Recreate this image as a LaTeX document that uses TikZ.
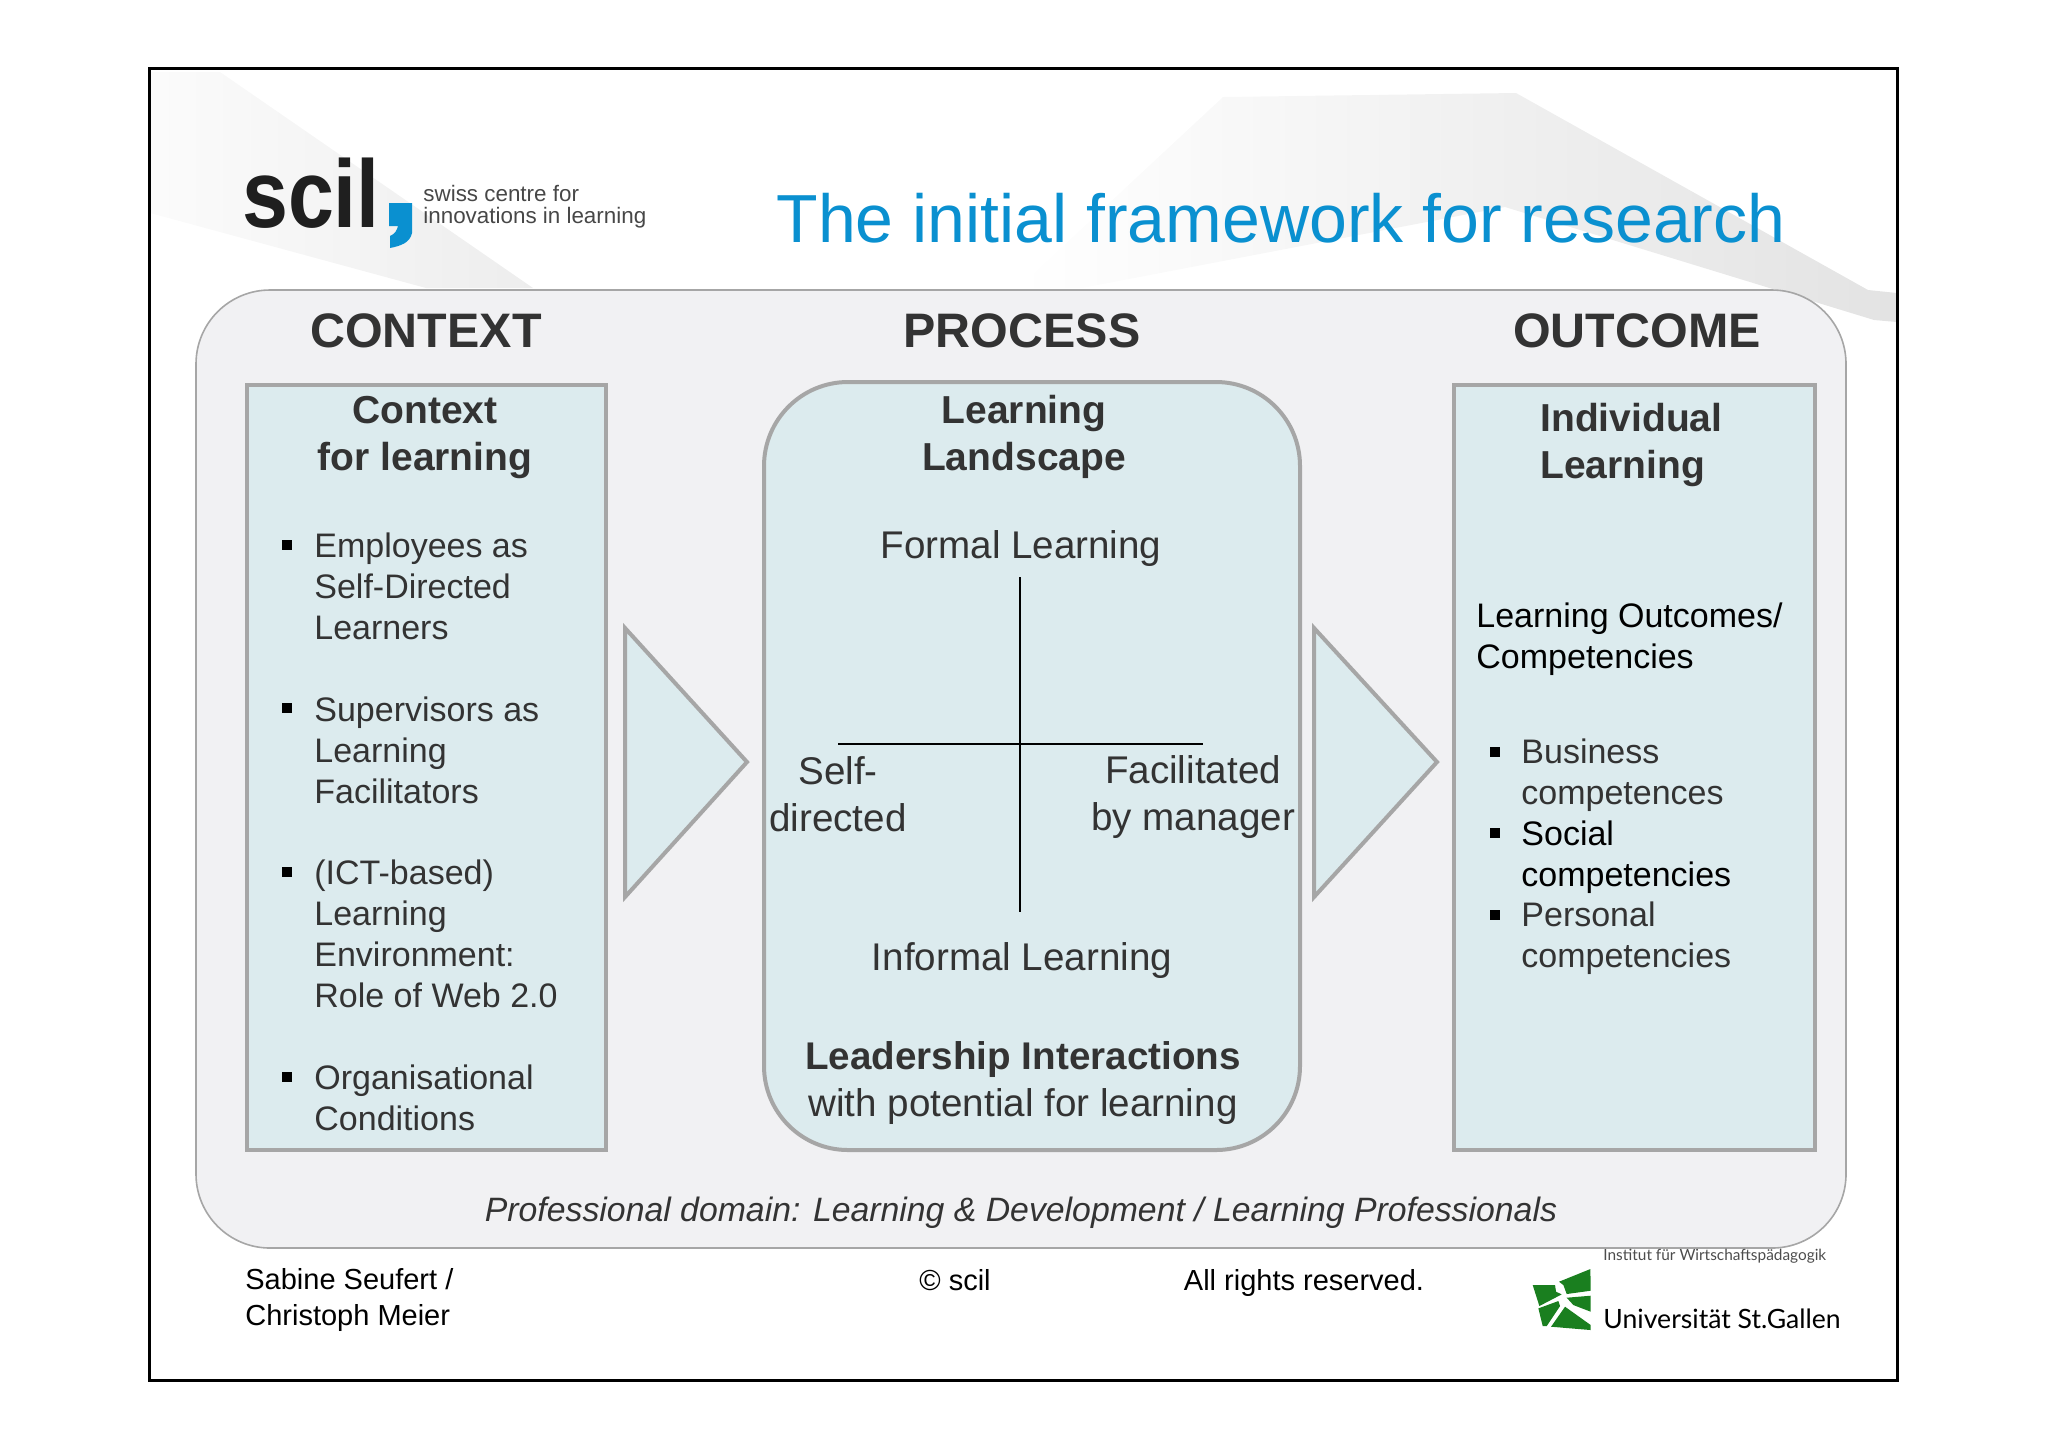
\documentclass[tikz,border=0pt]{standalone}
\usepackage{fontspec}
\usepackage{xcolor}
\usetikzlibrary{positioning}
\setmainfont{Liberation Sans}
\newfontfamily\unifont{Lato}

\definecolor{scilblue}{HTML}{0A90D0}
\definecolor{paneltext}{HTML}{333333}
\definecolor{panelfill}{HTML}{F1F1F3}
\definecolor{boxfill}{HTML}{DCEBEE}
\definecolor{boxline}{HTML}{A6A6A6}
\definecolor{unigreen}{HTML}{1A7F1F}

\begin{document}
\begin{tikzpicture}[x=.5pt,y=-.5pt,align=center,inner sep=0pt,text=paneltext]

    \tikzstyle{headline}=[font=\bfseries\fontsize{24.2}{28}\selectfont]
    \tikzstyle{boxtitle}=[font=\bfseries\fontsize{19.5}{23.5}\selectfont]
    \tikzstyle{middletext}=[font=\fontsize{19.3}{23.5}\selectfont]
    \tikzstyle{listtext}=[align=left,anchor=west,font=\fontsize{17}{20.5}\selectfont]
    \tikzstyle{footer}=[text=black,font=\fontsize{14.5}{17.6}\selectfont]
    \tikzstyle{tick}=[fill=black,minimum size=5pt]
    \tikzstyle{tealbox}=[draw=boxline,fill=boxfill,line width=2pt,minimum height=382.5pt]
    \tikzstyle{arrowshape}=[draw=boxline,fill=boxfill,line width=2pt,line join=miter]
    \tikzstyle{swoosh}=[draw=none]

    \useasboundingbox (0,0) rectangle (2048,1448);

    \shade[swoosh,left color=black!1.5,right color=black!7] (150,72) -- (220,72) -- (533,288) -- (426,288) -- (150,213) -- cycle;
    \shade[swoosh,left color=white,middle color=black!2,right color=black!11] (1018,288) -- (1223,97) -- (1516,93) -- (1868,290) -- (1897,293) -- (1897,322) -- (1874,320) -- (1505,207) -- (1082,288) -- cycle;

    \node[draw=black,line width=1.5pt,minimum width=874pt,minimum height=656pt] (frame) at (1023,724) {};
    \node[draw=boxline,fill=panelfill,line width=.8pt,rounded corners=37pt,minimum width=825pt,minimum height=479pt] (panel) at (1021,769) {};

    \node[text=black!88,font=\bfseries\fontsize{48}{50}\selectfont] (scil) at (311,193) {\scalebox{.86}[1]{scil}};
    \fill[scilblue] (389,203) -- (412,203) -- (412,233) .. controls (410,243) and (400,246) .. (390,248) -- (390,236) .. controls (395,234) and (397,230) .. (398,226) -- (389,226) -- cycle;
    \node[align=left,anchor=west,text=black!72,font=\fontsize{11.2}{11}\selectfont] (scilsub) at (423,207) {swiss centre for\\innovations in learning};
    \node[text=scilblue,font=\fontsize{34}{38}\selectfont] (title) at (1281,218) {The initial framework for research};

    \node[headline] (context) at (426,331) {CONTEXT};
    \node[headline] (process) at (1022,331) {PROCESS};
    \node[headline] (outcome) at (1637,331) {OUTCOME};

    \node[tealbox,minimum width=179.5pt] (ctxbox) at (426.5,767.5) {};
    \node[tealbox,rounded corners=42pt,minimum width=268pt,minimum height=384pt] (procbox) at (1032,766) {};
    \node[tealbox,minimum width=180.5pt] (outbox) at (1634.5,767.5) {};

    \draw[arrowshape] (625,628) -- (747,762) -- (625,897) -- cycle;
    \draw[arrowshape] (1314,628) -- (1437,762) -- (1314,897) -- cycle;

    \node[boxtitle] (ctxtitle) at (425,437) {Context\\for learning};
    \node[listtext] (ctxa) at (314,586) {Employees as\\Self-Directed\\Learners};
    \node[listtext] (ctxb) at (314,750) {Supervisors as\\Learning\\Facilitators};
    \node[listtext] (ctxc) at (314,934) {(ICT-based)\\Learning\\Environment:\\Role of Web 2.0};
    \node[listtext] (ctxd) at (314,1098) {Organisational\\Conditions};
    \node[tick] (ticka) at (287,545) {};
    \node[tick] (tickb) at (287,708) {};
    \node[tick] (tickc) at (287,872) {};
    \node[tick] (tickd) at (287,1077) {};

    \node[boxtitle] (proctitle) at (1024,437) {Learning\\Landscape};
    \node[middletext] (formal) at (1021,549) {Formal Learning};
    \node[middletext] (selfdir) at (838,794) {Self-\\directed};
    \node[middletext] (facil) at (1193,797) {Facilitated\\by manager};
    \node[middletext] (informal) at (1022,960) {Informal Learning};
    \node[middletext] (leader) at (1023,1083) {\textbf{Leadership Interactions}\\with potential for learning};

    \coordinate (crossN) at (1020,577);
    \coordinate (crossS) at (1020,912);
    \coordinate (crossW) at (838,744);
    \coordinate (crossE) at (1203,744);
    \draw[black,line width=.8pt] (crossN) -- (crossS);
    \draw[black,line width=.8pt] (crossW) -- (crossE);

    \node[boxtitle,align=left,anchor=west] (outtitle) at (1540,445) {Individual\\Learning};
    \node[listtext,text=black] (outcomes) at (1476,639) {Learning Outcomes/\\Competencies};
    \node[listtext] (outa) at (1521,775) {Business\\competences};
    \node[listtext,text=black] (outb) at (1521,857) {Social\\competencies};
    \node[listtext] (outc) at (1521,938) {Personal\\competencies};
    \node[tick] (ticke) at (1495,752) {};
    \node[tick] (tickf) at (1495,833) {};
    \node[tick] (tickg) at (1495,915) {};

    \node[font=\itshape\fontsize{16.9}{20}\selectfont] (domain) at (1021,1213) {Professional domain: Learning \& Development / Learning Professionals};

    \node[footer,align=left,anchor=west] (authors) at (245,1300) {Sabine Seufert /\\Christoph Meier};
    \node[footer] (copyr) at (955,1280) {© scil};
    \node[footer] (rights) at (1304,1283) {All rights reserved.};

    \node[anchor=west,text=black!70,font=\unifont\fontsize{7.7}{10}\selectfont] (institut) at (1603,1256) {Institut für Wirtschaftspädagogik};
    \node[anchor=base west,text=black,font=\unifont\fontsize{13.3}{16}\selectfont] (unisg) at (1603,1328) {Universität St.Gallen};

    \begin{scope}[shift={(1450,1200)},x=.1667pt,y=-.1667pt]
        \fill[unigreen] (327,245) -- (421,207) -- (422,272) -- (350,282) -- (340,255) -- cycle;
        \fill[unigreen] (248,255) -- (315,255) -- (318,275) -- (335,283) -- (268,318) -- cycle;
        \fill[unigreen] (350,293) -- (422,287) -- (422,335) -- (370,315) -- cycle;
        \fill[unigreen] (265,325) -- (325,303) -- (330,318) -- (290,378) -- (278,378) -- cycle;
        \fill[unigreen] (345,320) -- (422,375) -- (422,390) -- (303,380) -- cycle;
    \end{scope}
\end{tikzpicture}
\end{document}
